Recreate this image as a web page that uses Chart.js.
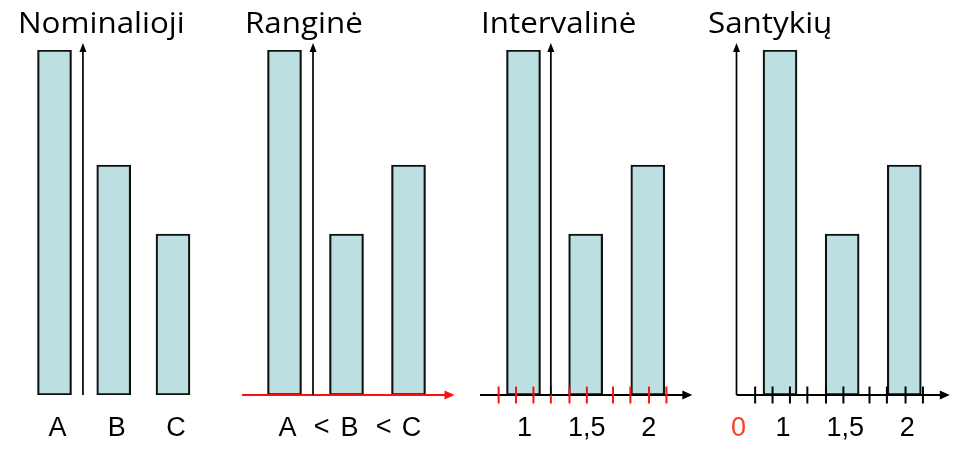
<!DOCTYPE html>
<html>
<head>
<meta charset="utf-8">
<script src="https://cdn.jsdelivr.net/npm/chart.js@4"></script>
<style>
  html, body { margin: 0; padding: 0; background: #ffffff; overflow: hidden; }
  #wrap { position: relative; width: 960px; height: 454px; }
  #wrap canvas { position: absolute; left: 0; top: 0; }
</style>
</head>
<body>
<div id="wrap"></div>
<script>
// ---- data ----
const panelTitles = ['Nominalioji', 'Ranginė', 'Intervalinė', 'Santykių'];

const nominalCategories = ['A', 'B', 'C'];
const nominalValues = [30, 20, 14];

const rankCategories = ['A', 'B', 'C'];
const rankSeparator = '<';
const rankValues = [30, 14, 20];

const intervalPositions = [1, 1.5, 2];
const intervalLabels = ['1', '1,5', '2'];
const intervalValues = [30, 14, 20];

const ratioPositions = [1, 1.5, 2];
const ratioLabels = ['1', '1,5', '2'];
const ratioValues = [30, 14, 20];
const ratioZeroLabel = '0';

const scaleMarks = [0.8, 0.94, 1.08, 1.22, 1.37, 1.51, 1.72, 1.86, 2.01, 2.15];
const valueMax = 30;
const numericMin = 0.65;
const numericMax = 2.35;

// ---- styles ----
const W = 960, H = 454;
const PLOT_TOP = 50, PLOT_BOTTOM = 395;
const BAR_FILL = '#bce0e2';
const BAR_EDGE = '#111111';
const RED = '#ff1010';
const ZERO_RED = '#ff3d1f';
const TITLE_FONT = '28.5px "Open Sans", "Noto Sans", sans-serif';
const TITLE_STRETCH = 1.1;
const LABEL_FONT = '27px "Liberation Sans", Arial, sans-serif';
const LABEL_BASELINE = 436;
const TITLE_BASELINE = 32.5;

const panels = [
  { title: panelTitles[0], titleX: 18, kind: 'category', labels: nominalCategories, values: nominalValues,
    area: [24.9, 202.6], yAxisAt: 0.48, labelShift: 3 },
  { title: panelTitles[1], titleX: 245, kind: 'category', labels: rankCategories, values: rankValues,
    area: [253.5, 439.5], yAxisAt: 0.46, labelShift: 3, separator: rankSeparator,
    hAxis: { color: RED, extL: 11.5, extR: 15 } },
  { title: panelTitles[2], titleX: 481, kind: 'linear', positions: intervalPositions, labels: intervalLabels,
    values: intervalValues, area: [480, 691.3], yAxisAt: 1.22, labelShift: 1,
    hAxis: { color: '#000', extL: 0, extR: 1 }, marks: { values: scaleMarks, color: RED } },
  { title: panelTitles[3], titleX: 708, kind: 'linear', positions: ratioPositions, labels: ratioLabels,
    values: ratioValues, area: [736.5, 947.8], yAxisAt: numericMin, labelShift: 3,
    hAxis: { color: '#000', extL: 0, extR: 2 }, marks: { values: scaleMarks, color: '#000' },
    zeroLabel: ratioZeroLabel }
];

function arrowUp(ctx, x, tipY, color) {
  ctx.fillStyle = color;
  ctx.beginPath();
  ctx.moveTo(x, tipY);
  ctx.lineTo(x - 3.5, tipY + 9);
  ctx.lineTo(x + 3.5, tipY + 9);
  ctx.closePath();
  ctx.fill();
}
function arrowRight(ctx, tipX, y, color) {
  ctx.fillStyle = color;
  ctx.beginPath();
  ctx.moveTo(tipX, y);
  ctx.lineTo(tipX - 10, y - 4.5);
  ctx.lineTo(tipX - 10, y + 4.5);
  ctx.closePath();
  ctx.fill();
}

function makeChart(p) {
  const canvas = document.createElement('canvas');
  canvas.width = W; canvas.height = H;
  canvas.style.width = W + 'px'; canvas.style.height = H + 'px';
  document.getElementById('wrap').appendChild(canvas);

  const barStyle = {
    backgroundColor: BAR_FILL,
    borderColor: BAR_EDGE,
    borderWidth: 2.2,
    borderSkipped: false,
    barThickness: 34
  };
  const data = p.kind === 'category'
    ? { labels: p.labels, datasets: [Object.assign({ data: p.values }, barStyle)] }
    : { datasets: [Object.assign({ data: p.positions.map((x, i) => ({ x: x, y: p.values[i] })) }, barStyle)] };

  const xScale = p.kind === 'category'
    ? { type: 'category', display: false, offset: true, grid: { display: false } }
    : { type: 'linear', display: false, offset: false, min: numericMin, max: numericMax, grid: { display: false } };

  const schemaPlugin = {
    id: 'schema',
    afterDatasetsDraw(chart) {
      const ctx = chart.ctx;
      const xs = chart.scales.x, ys = chart.scales.y;
      const area = chart.chartArea;
      const base = ys.getPixelForValue(0);
      ctx.save();

      // title
      ctx.save();
      ctx.font = TITLE_FONT;
      ctx.fillStyle = '#000';
      ctx.textAlign = 'left';
      ctx.textBaseline = 'alphabetic';
      ctx.translate(p.titleX, TITLE_BASELINE);
      ctx.scale(TITLE_STRETCH, 1);
      ctx.fillText(p.title, 0, 0);
      ctx.restore();

      // horizontal axis
      if (p.hAxis) {
        const x0 = area.left - p.hAxis.extL;
        const x1 = area.right + p.hAxis.extR;
        ctx.strokeStyle = p.hAxis.color;
        ctx.lineWidth = 2;
        ctx.beginPath();
        ctx.moveTo(x0, base);
        ctx.lineTo(x1 - 8, base);
        ctx.stroke();
        arrowRight(ctx, x1, base, p.hAxis.color);
      }

      // tick marks
      if (p.marks) {
        ctx.strokeStyle = p.marks.color;
        ctx.lineWidth = 2;
        p.marks.values.forEach(v => {
          const x = xs.getPixelForValue(v);
          ctx.beginPath();
          ctx.moveTo(x, base - 8.5);
          ctx.lineTo(x, base + 8.5);
          ctx.stroke();
        });
      }

      // vertical axis
      const ax = xs.getPixelForValue(p.yAxisAt);
      const tip = area.top - 7;
      ctx.strokeStyle = '#000';
      ctx.lineWidth = 1.7;
      ctx.beginPath();
      ctx.moveTo(ax, base);
      ctx.lineTo(ax, tip + 6);
      ctx.stroke();
      arrowUp(ctx, ax, tip, '#000');

      // labels
      ctx.font = LABEL_FONT;
      ctx.fillStyle = '#000';
      ctx.textAlign = 'center';
      ctx.textBaseline = 'alphabetic';
      p.labels.forEach((lab, i) => {
        const v = p.kind === 'category' ? i : p.positions[i];
        ctx.fillText(lab, xs.getPixelForValue(v) + p.labelShift, LABEL_BASELINE);
      });
      if (p.separator) {
        for (let i = 0; i < p.labels.length - 1; i++) {
          ctx.fillText(p.separator, xs.getPixelForValue(i + 0.6), LABEL_BASELINE - 1);
        }
      }
      if (p.zeroLabel) {
        ctx.fillStyle = ZERO_RED;
        ctx.fillText(p.zeroLabel, xs.getPixelForValue(numericMin) + 2, LABEL_BASELINE);
      }
      ctx.restore();
    }
  };

  return new Chart(canvas, {
    type: 'bar',
    data: data,
    options: {
      responsive: false,
      animation: false,
      events: [],
      layout: { padding: { left: p.area[0], right: W - p.area[1], top: PLOT_TOP, bottom: H - PLOT_BOTTOM } },
      plugins: { legend: { display: false }, title: { display: false }, tooltip: { enabled: false } },
      scales: {
        x: xScale,
        y: { type: 'linear', display: false, min: 0, max: valueMax, grid: { display: false } }
      }
    },
    plugins: [schemaPlugin]
  });
}

panels.forEach(makeChart);
</script>
</body>
</html>
